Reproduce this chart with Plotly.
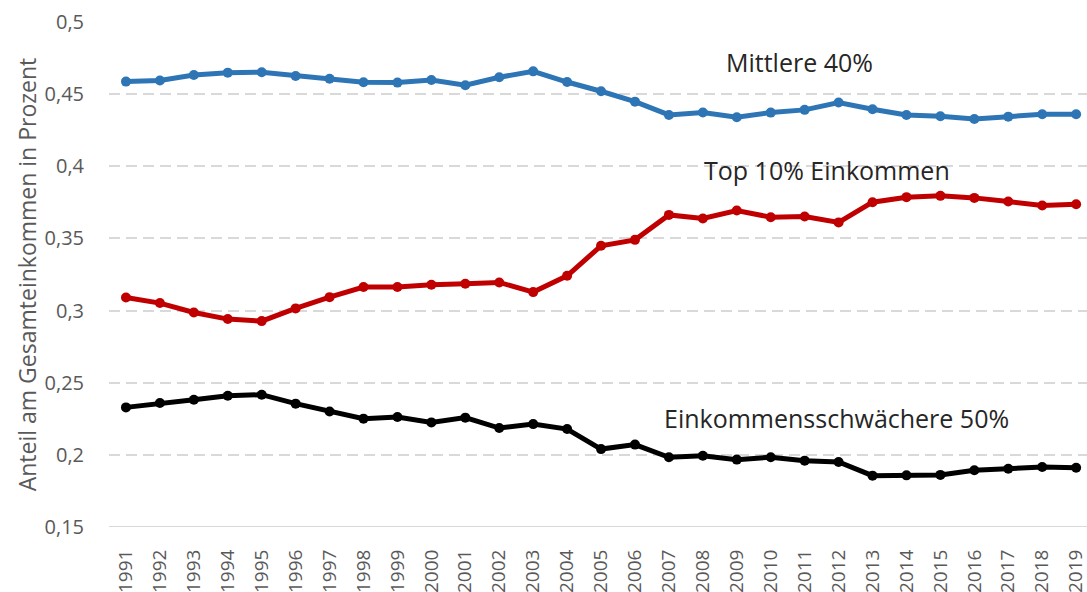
import plotly.graph_objects as go

years = list(range(1991, 2020))

mittlere_40 = [0.4587, 0.4594, 0.4633, 0.4649, 0.4652, 0.4626, 0.4607, 0.4582, 0.4580,
               0.4598, 0.4562, 0.4617, 0.4658, 0.4584, 0.4520, 0.4448, 0.4356, 0.4373,
               0.4340, 0.4372, 0.4391, 0.4442, 0.4395, 0.4356, 0.4347, 0.4328, 0.4344,
               0.4361, 0.4361]

top_10 = [0.3091, 0.3052, 0.2987, 0.2941, 0.2927, 0.3015, 0.3093, 0.3163, 0.3163,
          0.3179, 0.3186, 0.3195, 0.3128, 0.3241, 0.3449, 0.3490, 0.3663, 0.3638,
          0.3693, 0.3647, 0.3652, 0.3611, 0.3751, 0.3786, 0.3795, 0.3781, 0.3756,
          0.3728, 0.3737]

unteren_50 = [0.2329, 0.2359, 0.2382, 0.2410, 0.2417, 0.2355, 0.2301, 0.2251, 0.2262,
              0.2225, 0.2258, 0.2186, 0.2213, 0.2179, 0.2040, 0.2071, 0.1983, 0.1994,
              0.1967, 0.1984, 0.1960, 0.1951, 0.1856, 0.1858, 0.1861, 0.1893, 0.1904,
              0.1916, 0.1911]

y_tickvals = [0.15, 0.2, 0.25, 0.3, 0.35, 0.4, 0.45, 0.5]
y_ticktext = ["0,15", "0,2", "0,25", "0,3", "0,35", "0,4", "0,45", "0,5"]

series = [
    ("Mittlere 40%", mittlere_40, "#2E75B6"),
    ("Top 10% Einkommen", top_10, "#C00000"),
    ("Einkommensschwächere 50%", unteren_50, "#000000"),
]

labels = [
    ("Mittlere 40%", 2010.85, 0.4723),
    ("Top 10% Einkommen", 2011.65, 0.3975),
    ("Einkommensschwächere 50%", 2011.95, 0.2258),
]

fig = go.Figure()
for name, vals, color in series:
    fig.add_trace(go.Scatter(
        x=years, y=vals, name=name, mode="lines+markers",
        line=dict(color=color, width=5),
        marker=dict(color=color, size=10),
        showlegend=False,
    ))

for text, xv, yv in labels:
    fig.add_annotation(x=xv, y=yv, xref="x", yref="y", text=text, showarrow=False,
                       font=dict(family="Open Sans", size=25, color="#262626"))

fig.update_layout(
    width=1087, height=592,
    margin=dict(l=109, r=0, t=22, b=65),
    paper_bgcolor="white", plot_bgcolor="white",
    font=dict(family="Open Sans", color="#595959"),
)

fig.update_xaxes(
    range=[1990.5, 2019.32],
    tickvals=years, ticktext=[str(y) for y in years],
    tickangle=-90, tickfont=dict(size=19, color="#595959"),
    ticks="outside", ticklen=14, tickcolor="rgba(0,0,0,0)",
    ticklabeloverflow="allow",
    showgrid=False, showline=False, zeroline=False, automargin=False,
)

fig.update_yaxes(
    range=[0.15, 0.5],
    tickvals=y_tickvals, ticktext=y_ticktext,
    tickfont=dict(size=20, color="#595959"),
    ticks="outside", ticklen=20, tickcolor="rgba(0,0,0,0)",
    showgrid=True, gridcolor="#D9D9D9", griddash="11px,6px", gridwidth=1.5,
    zeroline=False, showline=False, automargin=False,
    title=dict(text="Anteil am Gesamteinkommen in Prozent",
               font=dict(size=23, color="#595959"), standoff=1),
)

# solid baseline at 0.15
fig.add_shape(type="line", xref="paper", yref="y", x0=0, x1=1, y0=0.15, y1=0.15,
              line=dict(color="#D9D9D9", width=2))

fig.write_html("out.html", config={"displayModeBar": False},
               post_script="document.body.style.margin='0';")
